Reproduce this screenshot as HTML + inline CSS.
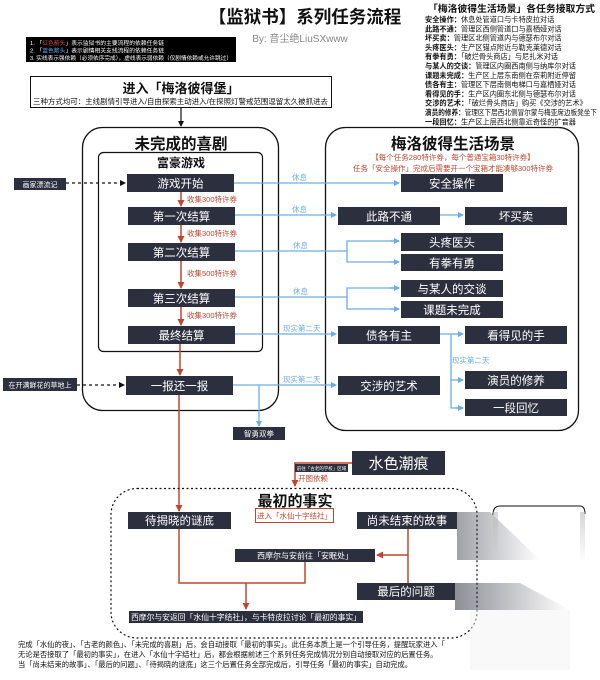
<!DOCTYPE html>
<html><head><meta charset="utf-8"><style>
html,body{margin:0;padding:0;background:#fff;width:600px;height:680px;overflow:hidden}
svg{display:block}
text{font-family:"Liberation Sans","Noto Sans CJK SC",sans-serif}
.bx{fill:#2c2f3e}
.bt{fill:#fff;font-size:11.5px;text-anchor:middle}
.bl{stroke:#6aaee8;stroke-width:1.3;fill:none}
.rd{stroke:#c0472f;stroke-width:1.5;fill:none}
.bll{fill:#6aaee8;font-size:7.5px}
.rl{fill:#c0472f;font-size:7.5px}
.rt{font-size:7.2px;fill:#111}
</style></head><body>
<svg width="600" height="680" viewBox="0 0 600 680" xmlns="http://www.w3.org/2000/svg">
<defs>
<marker id="ab" markerWidth="6" markerHeight="6" refX="5" refY="3" orient="auto" markerUnits="userSpaceOnUse"><path d="M0,0 L6,3 L0,6z" fill="#6aaee8"/></marker>
<marker id="ar" markerWidth="7" markerHeight="7" refX="6" refY="3.5" orient="auto" markerUnits="userSpaceOnUse"><path d="M0,0 L7,3.5 L0,7z" fill="#c0472f"/></marker>
<marker id="ak" markerWidth="6" markerHeight="6" refX="5" refY="3" orient="auto" markerUnits="userSpaceOnUse"><path d="M0,0 L6,3 L0,6z" fill="#111"/></marker>
<linearGradient id="sm" x1="0" x2="1"><stop offset="0" stop-color="#2c2f3e" stop-opacity=".9"/><stop offset="1" stop-color="#2c2f3e" stop-opacity="0"/></linearGradient>
<linearGradient id="sm2" x1="0" y1="0" x2="0" y2="1"><stop offset="0" stop-color="#bbb" stop-opacity=".6"/><stop offset="1" stop-color="#bbb" stop-opacity="0"/></linearGradient>
</defs>

<text x="305" y="23" font-size="17.5" font-weight="bold" text-anchor="middle" fill="#111">【监狱书】系列任务流程</text>
<text x="300" y="42" font-size="10" text-anchor="middle" fill="#888">By: 音尘绝LiuSXwww</text>
<rect x="26" y="37" width="210" height="25" fill="#000"/>
<text x="30" y="45" font-size="5.8" fill="#fff">1.     「<tspan fill="#e04040">红色箭头</tspan>」表示监狱书的主要流程的依赖任务链</text>
<text x="30" y="52.5" font-size="5.8" fill="#fff">2.     「<tspan fill="#5aa8f0">蓝色箭头</tspan>」表示剧情相关支线流程的依赖任务链</text>
<text x="30" y="60" font-size="5.8" fill="#fff" textLength="202" lengthAdjust="spacingAndGlyphs">3.     实线表示强依赖（必须依序完成），虚线表示弱依赖（仅剧情依赖或允许跳过）</text>

<rect x="30.5" y="76.5" width="301" height="31" fill="#fff" stroke="#111" stroke-width="1"/>
<text x="181" y="93" font-size="13" font-weight="bold" text-anchor="middle" fill="#111">进入「梅洛彼得堡」</text>
<text x="33" y="104" font-size="7.5" fill="#111" textLength="295" lengthAdjust="spacingAndGlyphs">三种方式均可：主线剧情引导进入/自由探索主动进入/在探照灯警戒范围逗留太久被抓进去</text>
<line x1="181" y1="108" x2="181" y2="126" stroke="#111" stroke-width="1.2" marker-end="url(#ak)"/>

<text x="428" y="12" font-size="9.5" font-weight="bold" fill="#111" textLength="167" lengthAdjust="spacingAndGlyphs">「梅洛彼得生活场景」各任务接取方式</text>
<g class="rt">
<text x="425" y="22"><tspan font-weight="bold">安全操作：</tspan>休息处管道口与卡特皮拉对话</text>
<text x="425" y="31.3"><tspan font-weight="bold">此路不通：</tspan>管理区西侧管道口与嘉栖娅对话</text>
<text x="425" y="40.6"><tspan font-weight="bold">坏买卖：</tspan>管理区北侧管道内与德瑟布尔对话</text>
<text x="425" y="49.9"><tspan font-weight="bold">头疼医头：</tspan>生产区锚点附近与勒克莱德对话</text>
<text x="425" y="59.2"><tspan font-weight="bold">有拳有勇：</tspan>「破烂骨头商店」与尼扎米对话</text>
<text x="425" y="68.5"><tspan font-weight="bold">与某人的交谈：</tspan>管理区内圈西南侧与纳库尔对话</text>
<text x="425" y="77.8"><tspan font-weight="bold">课题未完成：</tspan>生产区上层东南侧在奈莉附近停留</text>
<text x="425" y="87.1"><tspan font-weight="bold">债各有主：</tspan>管理区下层南侧电梯口与嘉栖娅对话</text>
<text x="425" y="96.4"><tspan font-weight="bold">看得见的手：</tspan>生产区内圈东北侧与德瑟布尔对话</text>
<text x="425" y="105.7"><tspan font-weight="bold">交涉的艺术：</tspan>「破烂骨头商店」购买《交涉的艺术》</text>
<text x="425" y="115" textLength="172" lengthAdjust="spacingAndGlyphs"><tspan font-weight="bold">演员的修养：</tspan>管理区下层西北侧冒尔蒙与梅亚席边板凳坐下</text>
<text x="425" y="124.3"><tspan font-weight="bold">一段回忆：</tspan>生产区上层西北侧靠近奇怪的扩音器</text>
</g>

<rect x="82.5" y="127.5" width="196" height="283" rx="20" fill="none" stroke="#111" stroke-width="1.3"/>
<text x="181" y="149" font-size="15.5" font-weight="bold" text-anchor="middle" fill="#111">未完成的喜剧</text>
<rect x="98.5" y="152.5" width="164" height="199" rx="5" fill="none" stroke="#111" stroke-width="1.2"/>
<text x="181" y="167" font-size="12" font-weight="bold" text-anchor="middle" fill="#111">富豪游戏</text>

<rect x="325.5" y="127.5" width="253" height="303" rx="20" fill="none" stroke="#111" stroke-width="1.3"/>
<text x="453" y="149" font-size="15.5" font-weight="bold" text-anchor="middle" fill="#111">梅洛彼得生活场景</text>
<text x="453" y="160" class="rl" text-anchor="middle">【每个任务280特许券，每个普通宝箱30特许券】</text>
<text x="453" y="171" class="rl" text-anchor="middle">任务「安全操作」完成后需要开一个宝箱才能凑够300特许券</text>

<g class="rd">
<line x1="181" y1="192" x2="181" y2="206" marker-end="url(#ar)"/>
<line x1="181" y1="225" x2="181" y2="242" marker-end="url(#ar)"/>
<line x1="181" y1="261" x2="181" y2="288" marker-end="url(#ar)"/>
<line x1="181" y1="307" x2="181" y2="325" marker-end="url(#ar)"/>
<line x1="180" y1="344" x2="180" y2="375" marker-end="url(#ar)"/>
<line x1="179" y1="395" x2="179" y2="511" marker-end="url(#ar)"/>
</g>
<text x="187" y="202" class="rl">收集300特许券</text>
<text x="187" y="236" class="rl">收集300特许券</text>
<text x="187" y="276" class="rl">收集500特许券</text>
<text x="187" y="318" class="rl">收集300特许券</text>

<rect x="14" y="178" width="52" height="12" class="bx"/>
<text x="40" y="187" fill="#fff" font-size="7" text-anchor="middle">画家漂流记</text>
<line x1="66" y1="183" x2="125" y2="183" stroke="#111" stroke-width="1.2" stroke-dasharray="3,3" marker-end="url(#ak)"/>
<rect x="3" y="378" width="74" height="13" class="bx"/>
<text x="40" y="387.5" fill="#fff" font-size="7" text-anchor="middle">在开满鲜花的草地上</text>
<line x1="77" y1="385" x2="124" y2="385" stroke="#111" stroke-width="1.2" stroke-dasharray="3,3" marker-end="url(#ak)"/>

<g class="bl">
<line x1="234" y1="183" x2="399" y2="183" marker-end="url(#ab)"/>
<line x1="235" y1="215" x2="336" y2="215" marker-end="url(#ab)"/>
<line x1="440" y1="215" x2="463" y2="215" marker-end="url(#ab)"/>
<line x1="235" y1="251" x2="347" y2="251"/>
<polyline points="399,241 347,241 347,262 399,262"/><line x1="390" y1="241" x2="399" y2="241" marker-end="url(#ab)"/><line x1="390" y1="262" x2="399" y2="262" marker-end="url(#ab)"/>
<line x1="235" y1="297" x2="347" y2="297"/>
<polyline points="399,288 347,288 347,309 399,309"/><line x1="390" y1="288" x2="399" y2="288" marker-end="url(#ab)"/><line x1="390" y1="309" x2="399" y2="309" marker-end="url(#ab)"/>
<line x1="235" y1="334" x2="336" y2="334" marker-end="url(#ab)"/>
<polyline points="440,334 451,334 451,408 463,408"/>
<line x1="451" y1="334" x2="463" y2="334" marker-end="url(#ab)"/>
<line x1="451" y1="380" x2="463" y2="380" marker-end="url(#ab)"/>
<line x1="455" y1="408" x2="463" y2="408" marker-end="url(#ab)"/>
<line x1="233" y1="385" x2="336" y2="385" marker-end="url(#ab)"/>
<line x1="259" y1="385" x2="259" y2="426" marker-end="url(#ab)"/>
</g>
<text x="292" y="180" class="bll">休息</text>
<text x="292" y="212" class="bll">休息</text>
<text x="293" y="248" class="bll">休息</text>
<text x="293" y="294" class="bll">休息</text>
<text x="283" y="331" class="bll">现实第二天</text>
<text x="283" y="382" class="bll">现实第二天</text>
<text x="452" y="363" class="bll">现实第二天</text>

<g>
<rect x="127" y="174" width="107" height="18" class="bx"/><text x="180.5" y="187.5" class="bt">游戏开始</text>
<rect x="128" y="207" width="107" height="18" class="bx"/><text x="181.5" y="220.5" class="bt">第一次结算</text>
<rect x="128" y="243" width="107" height="18" class="bx"/><text x="181.5" y="256.5" class="bt">第二次结算</text>
<rect x="128" y="289" width="107" height="18" class="bx"/><text x="181.5" y="302.5" class="bt">第三次结算</text>
<rect x="128" y="326" width="107" height="18" class="bx"/><text x="181.5" y="339.5" class="bt">最终结算</text>
<rect x="126" y="376" width="107" height="19" class="bx"/><text x="179.5" y="390" class="bt">一报还一报</text>
<rect x="233" y="427" width="52" height="13" class="bx"/><text x="259" y="436.5" fill="#fff" font-size="7.5" text-anchor="middle">智勇双拳</text>
</g>
<g>
<rect x="401" y="174" width="102" height="18" class="bx"/><text x="452" y="187.5" class="bt">安全操作</text>
<rect x="338" y="207" width="102" height="18" class="bx"/><text x="389" y="220.5" class="bt">此路不通</text>
<rect x="465" y="207" width="102" height="18" class="bx"/><text x="516" y="220.5" class="bt">坏买卖</text>
<rect x="401" y="233" width="102" height="18" class="bx"/><text x="452" y="246.5" class="bt">头疼医头</text>
<rect x="401" y="254" width="102" height="17" class="bx"/><text x="452" y="267" class="bt">有拳有勇</text>
<rect x="401" y="280" width="102" height="17" class="bx"/><text x="452" y="293" class="bt">与某人的交谈</text>
<rect x="401" y="301" width="102" height="17" class="bx"/><text x="452" y="314" class="bt">课题未完成</text>
<rect x="338" y="326" width="102" height="18" class="bx"/><text x="389" y="339.5" class="bt">债各有主</text>
<rect x="465" y="326" width="102" height="18" class="bx"/><text x="516" y="339.5" class="bt">看得见的手</text>
<rect x="338" y="376" width="102" height="19" class="bx"/><text x="389" y="390" class="bt">交涉的艺术</text>
<rect x="465" y="371" width="102" height="18" class="bx"/><text x="516" y="384.5" class="bt">演员的修养</text>
<rect x="465" y="399" width="102" height="17" class="bx"/><text x="516" y="412" class="bt">一段回忆</text>
</g>

<rect x="352" y="451" width="93" height="24" class="bx"/>
<text x="398.5" y="468.5" fill="#fff" font-size="15" text-anchor="middle">水色潮痕</text>
<polyline class="rd" points="352,463 295,463 295,486" marker-end="url(#ar)"/>
<rect x="295" y="464" width="53" height="8" class="bx"/>
<text x="321.5" y="470" fill="#fff" font-size="4.5" text-anchor="middle">前往「古老的学校」区域</text>
<text x="298" y="481" class="rl" font-size="8">开图依赖</text>

<rect x="111" y="488.5" width="366" height="149.5" rx="26" fill="none" stroke="#111" stroke-width="1.2" stroke-dasharray="2,2.5"/>
<text x="295" y="506" font-size="15" font-weight="bold" text-anchor="middle" fill="#111">最初的事实</text>
<rect x="255.5" y="508.5" width="78" height="14" fill="#fff" stroke="#c0472f" stroke-width="1"/>
<text x="294.5" y="518.5" class="rl" font-size="8" text-anchor="middle">进入「水仙十字结社」</text>

<rect x="128" y="512" width="103" height="17" class="bx"/><text x="179.5" y="524.5" class="bt">待揭晓的谜底</text>
<rect x="357" y="512" width="100" height="17" class="bx"/><text x="407" y="524.5" class="bt">尚未结束的故事</text>
<rect x="235" y="549" width="140" height="13" class="bx"/><text x="305" y="558.5" fill="#fff" font-size="8" text-anchor="middle">西摩尔与安前往「安眠处」</text>
<rect x="357" y="583" width="98" height="17" class="bx"/><text x="406" y="595.5" class="bt">最后的问题</text>
<rect x="129" y="611" width="234" height="12" class="bx"/><text x="246" y="620" fill="#fff" font-size="7.8" text-anchor="middle">西摩尔与安返回「水仙十字结社」，与卡特皮拉讨论「最初的事实」</text>

<g class="rd">
<polyline points="179,529 179,583 305,583 305,562"/>
<line x1="246" y1="583" x2="246" y2="609" marker-end="url(#ar)"/>
<line x1="408" y1="529" x2="408" y2="583"/>
<line x1="408" y1="555" x2="377" y2="555" marker-end="url(#ar)"/>
</g>

<polygon points="457,512 490,512 540,560 457,560" fill="url(#sm)" opacity=".5"/>
<polygon points="455,583 520,583 570,610 455,610" fill="url(#sm)" opacity=".6"/>
<path d="M493,515 Q493,506 500,506 L580,506 Q585,506 585,514" fill="none" stroke="#111" stroke-width="1"/>
<rect x="493" y="512" width="5" height="40" fill="url(#sm2)"/>
<rect x="580" y="512" width="5" height="50" fill="url(#sm2)"/>
<rect x="470" y="610" width="100" height="60" fill="#f4f4f4" opacity=".5"/>

<text x="18" y="647" font-size="7.3" fill="#111">完成「水仙的夜」、「古老的颜色」、「未完成的喜剧」后，会自动接取「最初的事实」。此任务本质上是一个引导任务，提醒玩家进入「</text>
<text x="18" y="657" font-size="7.3" fill="#111">无论是否接取了「最初的事实」，在进入「水仙十字结社」后，都会根据前述三个系列任务完成情况分别自动接取对应的后置任务。</text>
<text x="18" y="667" font-size="7.3" fill="#111">当「尚未结束的故事」、「最后的问题」、「待揭晓的谜底」这三个后置任务全部完成后，引导任务「最初的事实」自动完成。</text>
</svg>
</body></html>
